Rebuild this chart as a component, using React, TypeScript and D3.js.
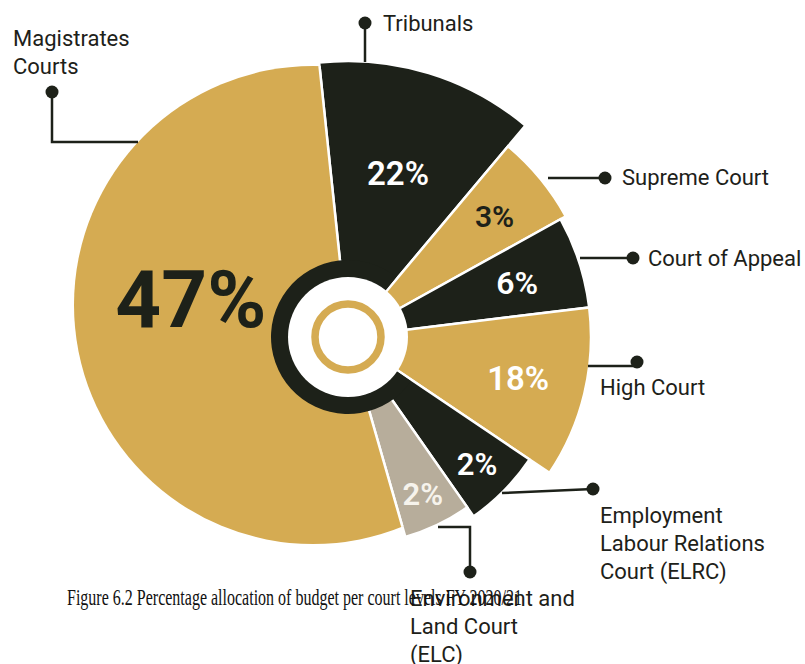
import { useEffect, useRef } from 'react';
import * as d3 from 'd3';

// budget share per court level, FY 2020/21
const courts = [
  'Tribunals',
  'Supreme Court',
  'Court of Appeal',
  'High Court',
  'Employment Labour Relations Court (ELRC)',
  'Environment and Land Court (ELC)',
  'Magistrates Courts',
];
const shares = [22, 3, 6, 18, 2, 2, 47];
const labelLines = [
  ['Tribunals'],
  ['Supreme Court'],
  ['Court of Appeal'],
  ['High Court'],
  ['Employment', 'Labour Relations', 'Court (ELRC)'],
  ['Environment and', 'Land Court', '(ELC)'],
  ['Magistrates', 'Courts'],
];
const caption = 'Figure 6.2 Percentage allocation of budget per court levels FY 2020/21';

// the infographic does not size slices by share: sweep (deg) and radius are read off the picture
const sweep = [46, 21, 22, 41, 21, 19, 190];
const outerR = [276, 249, 243, 243, 219, 208, 320];

const GOLD = '#d5ab52';
const DARK = '#1d2119';
const GREY = '#b7ad9b';
const fills = [DARK, GOLD, DARK, GOLD, DARK, GREY, GOLD];
const pctColor = ['#ffffff', DARK, '#ffffff', '#ffffff', '#ffffff', '#f6f3ec', DARK];
const pctSize = [33, 30, 32, 33, 31, 31, 80];
const pctRadius = [171, 190, 178, 175, 181, 174, 162];

// callouts: leader polyline, dot, text start
const callouts = [
  { pts: [[365, 62], [365, 23]], dot: [365, 23], tx: 383, ty: 31 },
  { pts: [[548, 178], [605, 178]], dot: [605, 178], tx: 622, ty: 185 },
  { pts: [[580, 258], [633, 258]], dot: [633, 258], tx: 648, ty: 266 },
  { pts: [[588, 366], [634, 366]], dot: [637, 362], tx: 600, ty: 395 },
  { pts: [[502, 493], [593, 489]], dot: [593, 489], tx: 600, ty: 523 },
  { pts: [[438, 527], [470, 527], [470, 572]], dot: [470, 572], tx: 410, ty: 606 },
  { pts: [[138, 142], [52, 142], [52, 92]], dot: [52, 92], tx: 13, ty: 46 },
];

const rad = (deg) => (deg * Math.PI) / 180;

const App = () => {
  const ref = useRef(null);

  useEffect(() => {
    const width = 805;
    const height = 664;
    const cx = 348;
    const cy = 337;

    const svg = d3.select(ref.current)
      .attr('width', width)
      .attr('height', height);
    svg.selectAll('*').remove();

    const defs = svg.append('defs');
    // the big slice is cut by its own circle, set off from the hub
    defs.append('clipPath')
      .attr('id', 'mag-clip')
      .append('circle')
      .attr('cx', -35)
      .attr('cy', -32)
      .attr('r', 239);

    const center = svg.append('g')
      .attr('transform', `translate(${cx},${cy})`);

    const pie = d3.pie()
      .sort(null)
      .value((i) => sweep[i])
      .startAngle(rad(-6))
      .endAngle(rad(354));
    const arcs = pie(d3.range(courts.length));

    const arc = d3.arc()
      .innerRadius(0)
      .outerRadius((d) => outerR[d.index]);

    center.selectAll('.slice')
      .data(arcs)
      .join('path')
      .attr('class', 'slice')
      .attr('d', arc)
      .attr('fill', (d) => fills[d.index])
      .attr('stroke', '#ffffff')
      .attr('stroke-width', 2.5)
      .attr('clip-path', (d) => (d.index === 6 ? 'url(#mag-clip)' : null));

    // dark band round the hub, from ELRC round to the end of Tribunals
    const band = d3.arc()
      .innerRadius(56)
      .outerRadius(77)
      .startAngle(arcs[4].startAngle + 0.02)
      .endAngle(arcs[0].endAngle + 2 * Math.PI - 0.02);
    center.append('path')
      .attr('d', band())
      .attr('fill', DARK);

    center.append('circle')
      .attr('r', 60)
      .attr('fill', '#ffffff');
    center.append('circle')
      .attr('r', 33)
      .attr('fill', 'none')
      .attr('stroke', GOLD)
      .attr('stroke-width', 7.5);

    // percentages
    center.selectAll('.pct')
      .data(arcs)
      .join('text')
      .attr('class', 'pct')
      .text((d) => `${shares[d.index]}%`)
      .attr('x', (d) => {
        const a = d.index === 6 ? rad(284) : (d.startAngle + d.endAngle) / 2;
        return pctRadius[d.index] * Math.sin(a);
      })
      .attr('y', (d) => {
        const a = d.index === 6 ? rad(284) : (d.startAngle + d.endAngle) / 2;
        return -pctRadius[d.index] * Math.cos(a) + pctSize[d.index] * 0.36;
      })
      .attr('text-anchor', 'middle')
      .attr('font-family', 'Roboto, sans-serif')
      .attr('font-weight', (d) => (d.index === 6 ? 700 : 600))
      .attr('font-size', (d) => pctSize[d.index])
      .attr('fill', (d) => pctColor[d.index]);

    // callouts
    const line = d3.line();
    const notes = svg.selectAll('.note')
      .data(callouts)
      .join('g')
      .attr('class', 'note');

    notes.append('path')
      .attr('d', (d) => line(d.pts))
      .attr('fill', 'none')
      .attr('stroke', DARK)
      .attr('stroke-width', 2.5);

    notes.append('circle')
      .attr('cx', (d) => d.dot[0])
      .attr('cy', (d) => d.dot[1])
      .attr('r', 6.5)
      .attr('fill', DARK);

    notes.append('text')
      .attr('font-family', 'Roboto, sans-serif')
      .attr('font-size', 22)
      .attr('fill', DARK)
      .each(function (d, i) {
        d3.select(this)
          .selectAll('tspan')
          .data(labelLines[i])
          .join('tspan')
          .attr('x', d.tx)
          .attr('y', (t, j) => d.ty + j * 28)
          .text((t) => t);
      });

    svg.append('text')
      .text(caption)
      .attr('x', 67)
      .attr('y', 605)
      .attr('font-family', '"Liberation Serif", serif')
      .attr('font-size', 23)
      .attr('fill', '#111111')
      .attr('textLength', 455)
      .attr('lengthAdjust', 'spacingAndGlyphs');
  }, []);

  return (
    <div>
      <svg ref={ref} style={{ position: 'absolute', left: 0, top: 0 }}></svg>
    </div>
  );
};

export default App;
